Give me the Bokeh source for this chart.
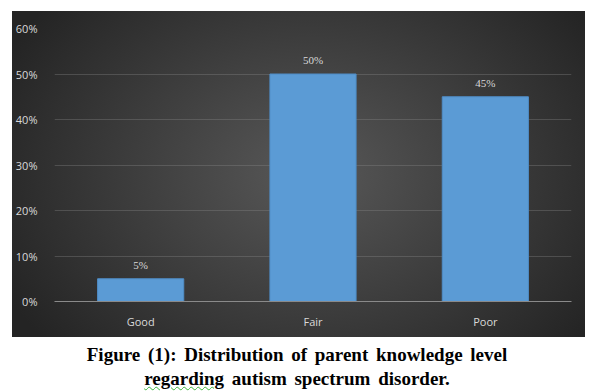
from bokeh.plotting import figure
from bokeh.models import ColumnDataSource, LabelSet, FixedTicker, NumeralTickFormatter, Div, Range1d, Spacer
from bokeh.layouts import column, row
from bokeh.embed import file_html
from bokeh.resources import INLINE

categories = ["Good", "Fair", "Poor"]
values = [0.05, 0.50, 0.45]
y_ticks = [0, 0.1, 0.2, 0.3, 0.4, 0.5, 0.6]
caption_line1 = "Figure (1): Distribution of parent knowledge level"
caption_line2_a = "regarding"
caption_line2_b = " autism spectrum disorder."

labels = [f"{round(v * 100)}%" for v in values]
source = ColumnDataSource(data=dict(cat=categories, val=values, lab=labels))

p = figure(x_range=categories, y_range=Range1d(0, 0.6),
           width=573, height=326, output_backend="svg", toolbar_location=None,
           min_border_left=38, min_border_right=14, min_border_top=17, min_border_bottom=36)
p.styles = {"background": "radial-gradient(ellipse 60% 80% at 52% 50%, #585858 0%, #3e3e3e 50%, #242424 100%)"}
p.background_fill_alpha = 0
p.border_fill_alpha = 0
p.outline_line_color = None

p.vbar(x="cat", top="val", width=0.5, source=source,
       fill_color="#5b9bd5", line_color="#4f8cc6", line_width=1)

lbl = LabelSet(x="cat", y="val", text="lab", source=source, text_align="center",
               text_baseline="bottom", y_offset=8, text_color="#d9d9d9",
               text_font_size="11px", text_font="Open Sans")
p.add_layout(lbl)

p.yaxis.ticker = FixedTicker(ticks=y_ticks)
p.yaxis.formatter = NumeralTickFormatter(format="0%")
p.yaxis.axis_line_color = None
p.yaxis.major_tick_line_color = None
p.yaxis.minor_tick_line_color = None
p.yaxis.major_label_standoff = 11
p.yaxis.major_label_text_color = "#d9d9d9"
p.yaxis.major_label_text_font_size = "11px"
p.yaxis.major_label_text_font = "Open Sans"

p.xaxis.axis_line_color = "#8a8a8a"
p.xaxis.axis_line_width = 1
p.xaxis.major_tick_line_color = None
p.xaxis.minor_tick_line_color = None
p.xaxis.major_label_standoff = 6
p.xaxis.major_label_text_color = "#d9d9d9"
p.xaxis.major_label_text_font_size = "11px"
p.xaxis.major_label_text_font = "Open Sans"

p.xgrid.grid_line_color = None
p.ygrid.grid_line_color = "#8a8a8a"
p.ygrid.grid_line_alpha = 0.35

caption = Div(
    text=(f"{caption_line1}<br><span style='text-decoration: underline wavy #3cb43c; "
          f"text-decoration-thickness: 1px;'>{caption_line2_a}</span>{caption_line2_b}"),
    width=584, height=50,
    styles={"font-family": "'Liberation Serif', 'Times New Roman', serif", "font-weight": "bold",
            "font-size": "19px", "line-height": "24px", "text-align": "center",
            "color": "#000", "word-spacing": "3px", "padding-top": "1px"},
)

layout = column(Spacer(height=11), row(Spacer(width=12), p, spacing=0), caption, spacing=0)
open("out.html", "w").write(file_html(layout, INLINE))
